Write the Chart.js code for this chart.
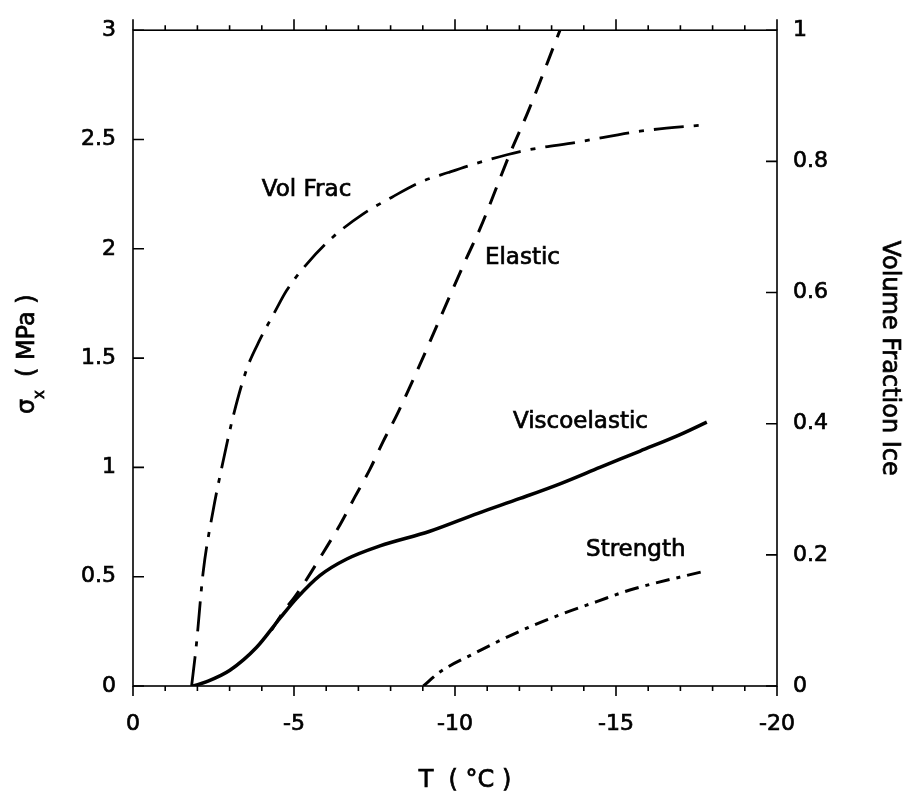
<!DOCTYPE html>
<html>
<head>
<meta charset="utf-8">
<script src="https://cdn.jsdelivr.net/npm/chart.js@4/dist/chart.umd.min.js"></script>
<style>
  html, body { margin: 0; padding: 0; background: #fff; }
  canvas { display: block; }
</style>
</head>
<body>
<canvas id="chart" width="909" height="796"></canvas>
<script>
// Volume fraction of ice vs temperature (right axis)
const volFracT   = [-1.82, -1.96, -2.18, -2.49, -2.80, -3.12, -3.53, -3.94, -4.40, -4.77, -5.39, -6.22, -7.15, -8.03, -8.91, -9.79, -10.67, -12.02, -13.88, -15.75, -17.82];
const volFracIce = [0.000, 0.059, 0.174, 0.268, 0.343, 0.413, 0.483, 0.528, 0.570, 0.603, 0.643, 0.685, 0.720, 0.745, 0.768, 0.783, 0.797, 0.815, 0.830, 0.846, 0.856];

// Elastic thermal stress (MPa)
const elasticT      = [-4.30, -4.67, -5.03, -5.34, -5.91, -6.43, -6.89, -7.36, -7.77, -8.24, -10.36, -10.78, -11.71, -12.28, -13.26];
const elasticStress = [0.255, 0.340, 0.409, 0.476, 0.611, 0.738, 0.865, 0.992, 1.119, 1.254, 1.958, 2.093, 2.437, 2.631, 3.000];

// Viscoelastic thermal stress (MPa)
const viscoT      = [-1.87, -2.29, -3.01, -3.84, -4.57, -5.08, -5.81, -6.64, -7.67, -9.22, -10.71, -12.02, -13.26, -14.50, -15.75, -16.99, -17.82];
const viscoStress = [0.000, 0.020, 0.072, 0.177, 0.311, 0.401, 0.506, 0.581, 0.641, 0.708, 0.790, 0.858, 0.925, 1.000, 1.075, 1.150, 1.207];

// Tensile strength (MPa)
const strengthT      = [-9.02, -9.53, -10.57, -12.02, -13.26, -14.40, -15.43, -17.82];
const strengthStress = [0.000, 0.064, 0.147, 0.251, 0.326, 0.386, 0.439, 0.528];

// Tick values
const xTicks      = [0, -5, -10, -15, -20];
const yLeftTicks  = [0, 0.5, 1, 1.5, 2, 2.5, 3];
const yRightTicks = [0, 0.2, 0.4, 0.6, 0.8, 1];

const FONT = "'DejaVu Sans', Verdana, sans-serif";
const TEXT_STROKE = 0.7;

const pts = (xs, ys) => xs.map((v, i) => ({ x: v, y: ys[i] }));

// Curve names written next to each curve (anchor in axis units, left/baseline)
const curveNotes = [
  { text: 'Vol Frac',     t: -4.00,  s: 2.24 },
  { text: 'Elastic',      t: -10.93, s: 1.93 },
  { text: 'Viscoelastic', t: -11.80, s: 1.18 },
  { text: 'Strength',     t: -14.07, s: 0.593 }
];

// fill + thin outline so glyphs read slightly heavier
function heavyText(ctx, str, px, py) {
  ctx.fillText(str, px, py);
  ctx.strokeText(str, px, py);
}

const axesDecor = {
  id: 'axesDecor',
  afterDatasetsDraw(chart) {
    const { ctx, chartArea: a, scales } = chart;
    const x = scales.x, y = scales.y, y2 = scales.y2;
    ctx.save();
    ctx.strokeStyle = '#000';
    ctx.lineWidth = 1.6;
    ctx.strokeRect(a.left, a.top, a.right - a.left, a.bottom - a.top);

    ctx.beginPath();
    for (let t = 0; t >= -20; t--) {
      const px = x.getPixelForValue(t);
      const major = t % 5 === 0;
      ctx.moveTo(px, a.bottom);
      ctx.lineTo(px, a.bottom + (major ? 10 : 5));
      ctx.moveTo(px, a.top);
      ctx.lineTo(px, a.top - (major ? 11 : 5));
    }
    yLeftTicks.forEach(v => {
      const py = y.getPixelForValue(v);
      ctx.moveTo(a.left, py);
      ctx.lineTo(a.left + 11, py);
    });
    yRightTicks.forEach(v => {
      const py = y2.getPixelForValue(v);
      ctx.moveTo(a.right, py);
      ctx.lineTo(a.right - 11, py);
    });
    ctx.stroke();

    // curve names
    ctx.fillStyle = '#000';
    ctx.lineWidth = TEXT_STROKE;
    ctx.font = '23px ' + FONT;
    ctx.textAlign = 'left';
    ctx.textBaseline = 'alphabetic';
    curveNotes.forEach(n => {
      heavyText(ctx, n.text, x.getPixelForValue(n.t), y.getPixelForValue(n.s));
    });
    ctx.restore();
  },
  afterDraw(chart) {
    const { ctx, chartArea: a } = chart;
    const midY = (a.top + a.bottom) / 2;
    ctx.save();
    ctx.fillStyle = '#000';
    ctx.strokeStyle = '#000';
    ctx.lineWidth = TEXT_STROKE;

    // bottom title
    ctx.font = '24px ' + FONT;
    ctx.textAlign = 'center';
    ctx.textBaseline = 'alphabetic';
    heavyText(ctx, 'T  ( \u00B0C )', (a.left + a.right) / 2 + 10, 787);

    // left title: sigma with subscript x
    ctx.save();
    ctx.translate(28, midY);
    ctx.rotate(-Math.PI / 2);
    ctx.textAlign = 'left';
    ctx.textBaseline = 'middle';
    ctx.font = '24px ' + FONT;
    heavyText(ctx, '\u03C3', -56, 0);
    ctx.font = '15px ' + FONT;
    heavyText(ctx, 'x', -41, 12);
    ctx.font = '24px ' + FONT;
    heavyText(ctx, '( MPa )', -19, 0);
    ctx.restore();

    // right title
    ctx.save();
    ctx.translate(883, midY);
    ctx.rotate(Math.PI / 2);
    ctx.textAlign = 'center';
    ctx.textBaseline = 'alphabetic';
    ctx.font = '24px ' + FONT;
    heavyText(ctx, 'Volume Fraction Ice', 0, 0);
    ctx.restore();

    ctx.restore();
  }
};

const tickFont = { family: FONT, size: 22 };

new Chart(document.getElementById('chart'), {
  type: 'line',
  data: {
    datasets: [
      {
        label: 'Viscoelastic',
        data: pts(viscoT, viscoStress),
        yAxisID: 'y',
        borderColor: '#000',
        borderWidth: 3.5,
        cubicInterpolationMode: 'monotone',
        pointRadius: 0,
        order: 0
      },
      {
        label: 'Elastic',
        data: pts(elasticT, elasticStress),
        yAxisID: 'y',
        borderColor: '#000',
        borderWidth: 3,
        borderDash: [18, 12],
        cubicInterpolationMode: 'monotone',
        pointRadius: 0,
        order: 2
      },
      {
        label: 'Strength',
        data: pts(strengthT, strengthStress),
        yAxisID: 'y',
        borderColor: '#000',
        borderWidth: 3,
        borderDash: [14, 7, 4, 7],
        cubicInterpolationMode: 'monotone',
        pointRadius: 0,
        order: 1
      },
      {
        label: 'Vol Frac',
        data: pts(volFracT, volFracIce),
        yAxisID: 'y2',
        borderColor: '#000',
        borderWidth: 2.8,
        borderDash: [30, 10, 5, 10],
        cubicInterpolationMode: 'monotone',
        pointRadius: 0,
        order: 1
      }
    ]
  },
  options: {
    responsive: false,
    devicePixelRatio: 1,
    animation: false,
    layout: { padding: { top: 18, left: 0, right: 0, bottom: 0 } },
    plugins: {
      legend: { display: false },
      tooltip: { enabled: false }
    },
    scales: {
      x: {
        type: 'linear',
        position: 'bottom',
        min: -20,
        max: 0,
        reverse: true,
        grid: { display: false, drawTicks: false },
        border: { display: false },
        afterBuildTicks: s => { s.ticks = xTicks.map(v => ({ value: v })); },
        afterFit: s => { s.height = 110; },
        ticks: {
          font: tickFont,
          color: '#000',
          textStrokeColor: '#000',
          textStrokeWidth: TEXT_STROKE,
          padding: 25,
          maxRotation: 0,
          callback: v => String(v)
        }
      },
      y: {
        type: 'linear',
        position: 'left',
        min: 0,
        max: 3,
        grid: { display: false, drawTicks: false },
        border: { display: false },
        afterBuildTicks: s => { s.ticks = yLeftTicks.map(v => ({ value: v })); },
        afterFit: s => { s.width = 133; },
        ticks: {
          font: tickFont,
          color: '#000',
          textStrokeColor: '#000',
          textStrokeWidth: TEXT_STROKE,
          padding: 17,
          callback: v => String(v)
        }
      },
      y2: {
        type: 'linear',
        position: 'right',
        min: 0,
        max: 1,
        grid: { display: false, drawTicks: false },
        border: { display: false },
        afterBuildTicks: s => { s.ticks = yRightTicks.map(v => ({ value: v })); },
        afterFit: s => { s.width = 132; },
        ticks: {
          font: tickFont,
          color: '#000',
          textStrokeColor: '#000',
          textStrokeWidth: TEXT_STROKE,
          padding: 16,
          callback: v => String(+v.toFixed(1))
        }
      }
    }
  },
  plugins: [axesDecor]
});
</script>
</body>
</html>
